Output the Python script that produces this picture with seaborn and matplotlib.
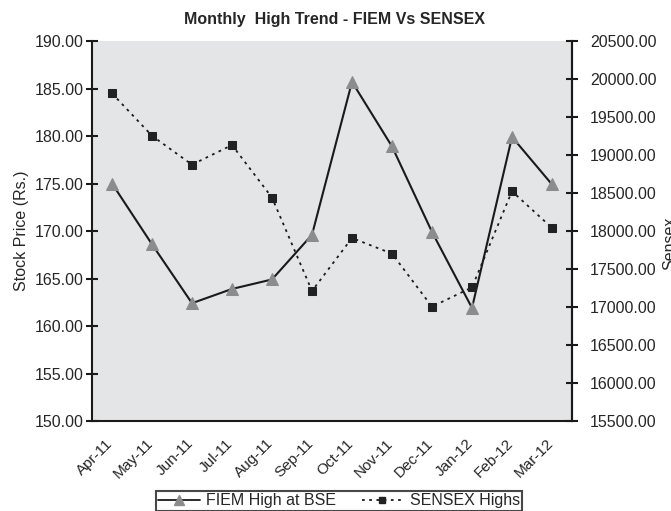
import matplotlib
matplotlib.use("Agg")
import matplotlib.pyplot as plt
import matplotlib.transforms as mtransforms
import seaborn as sns
import numpy as np
import pandas as pd
from matplotlib.lines import Line2D

months = ["Apr-11", "May-11", "Jun-11", "Jul-11", "Aug-11", "Sep-11",
          "Oct-11", "Nov-11", "Dec-11", "Jan-12", "Feb-12", "Mar-12"]
fiem_high = [175.0, 168.6, 162.4, 163.9, 164.9, 169.6, 185.7, 178.9, 169.9, 161.9, 179.9, 174.9]
sensex_high = [19811, 19253, 18873, 19131, 18440, 17211, 17908, 17702, 17004, 17258, 18523, 18040]

sns.set_style("white")
plt.rcParams['font.family'] = ['Liberation Sans', 'DejaVu Sans']

df = pd.DataFrame({"pos": np.arange(len(months)), "month": months,
                   "fiem": fiem_high, "sensex": sensex_high})

fig = plt.figure(figsize=(6.71, 5.11), dpi=100)
ax = fig.add_axes([92/671, 1 - 421/511, 480/671, 380/511])
ax.set_facecolor("#e4e5e7")
ax2 = ax.twinx()

sns.lineplot(data=df, x="pos", y="fiem", ax=ax, color="#1a1a1a", linewidth=1.5,
             marker="^", markersize=9, markerfacecolor="#8c8c8c",
             markeredgecolor="#8c8c8c", zorder=3)
sns.lineplot(data=df, x="pos", y="sensex", ax=ax2, color="#1a1a1a", linewidth=1.3,
             linestyle=(0, (1.5, 2.5)), marker="s", markersize=6,
             markerfacecolor="#222222", markeredgecolor="#222222", zorder=3)

ax.set_xlim(-0.5, 11.5)
ax.set_ylim(150, 190)
ax2.set_ylim(15500, 20500)
ax.set_yticks(np.arange(150, 190.1, 5))
ax.set_yticklabels([f"{v:.2f}" for v in np.arange(150, 190.1, 5)], fontsize=11.5)
ax2.set_yticks(np.arange(15500, 20500.1, 500))
ax2.set_yticklabels([f"{v:.2f}" for v in np.arange(15500, 20500.1, 500)], fontsize=11.5)

ax.set_xticks(np.arange(-0.5, 12, 1))
ax.set_xticklabels([])
ax.set_xticks(df["pos"], minor=True)
ax.set_xticklabels(months, minor=True, rotation=45, ha="right",
                   rotation_mode="anchor", fontsize=11)
ax.tick_params(axis="x", which="minor", length=0, pad=11)
ax.tick_params(axis="x", which="major", direction="inout", length=8, width=1.5, color="#1a1a1a")
ax.tick_params(axis="y", direction="inout", length=8, width=1.5, color="#1a1a1a", pad=2)
ax2.tick_params(axis="y", direction="inout", length=8, width=1.5, color="#1a1a1a", pad=9)

shift = mtransforms.ScaledTranslation(-6/100, 0, fig.dpi_scale_trans)
for lbl in ax.get_xticklabels(minor=True):
    lbl.set_transform(lbl.get_transform() + shift)

for a in (ax, ax2):
    a.set_xlabel("")
    a.spines["top"].set_visible(False)
    for s in ("left", "right", "bottom"):
        a.spines[s].set_color("#1a1a1a")
        a.spines[s].set_linewidth(1.5)
ax2.spines["left"].set_visible(False)
ax2.spines["bottom"].set_visible(False)

ax.set_ylabel("Stock Price (Rs.)", fontsize=11.5, labelpad=4)
ax2.set_ylabel("")
fig.text(662/671, 1 - 243/511, "Sensex", rotation=90, fontsize=11.5, ha="left", va="center")

fig.text(334/671, 1 - 19/511, "Monthly  High Trend - FIEM Vs SENSEX",
         fontsize=11.5, fontweight="bold", ha="center", va="center")

handles = [Line2D([], [], color="#1a1a1a", linewidth=1.3, marker="^", markersize=7,
                  markerfacecolor="#8c8c8c", markeredgecolor="#8c8c8c"),
           Line2D([], [], color="#1a1a1a", linewidth=1.3, linestyle=(0, (1.5, 2.5)),
                  marker="s", markersize=5, markerfacecolor="#222222",
                  markeredgecolor="#222222")]
leg = fig.legend(handles, ["FIEM High at BSE", "SENSEX Highs"], loc="upper center",
                 bbox_to_anchor=(339/671, 1 - 491/511), ncol=2, fontsize=11.5,
                 frameon=True, fancybox=False, edgecolor="#1a1a1a",
                 handlelength=2.6, columnspacing=1.6, borderpad=0.15,
                 handletextpad=0.4, borderaxespad=0)
leg.get_frame().set_linewidth(1.5)

fig.savefig("out.png", dpi=100)
